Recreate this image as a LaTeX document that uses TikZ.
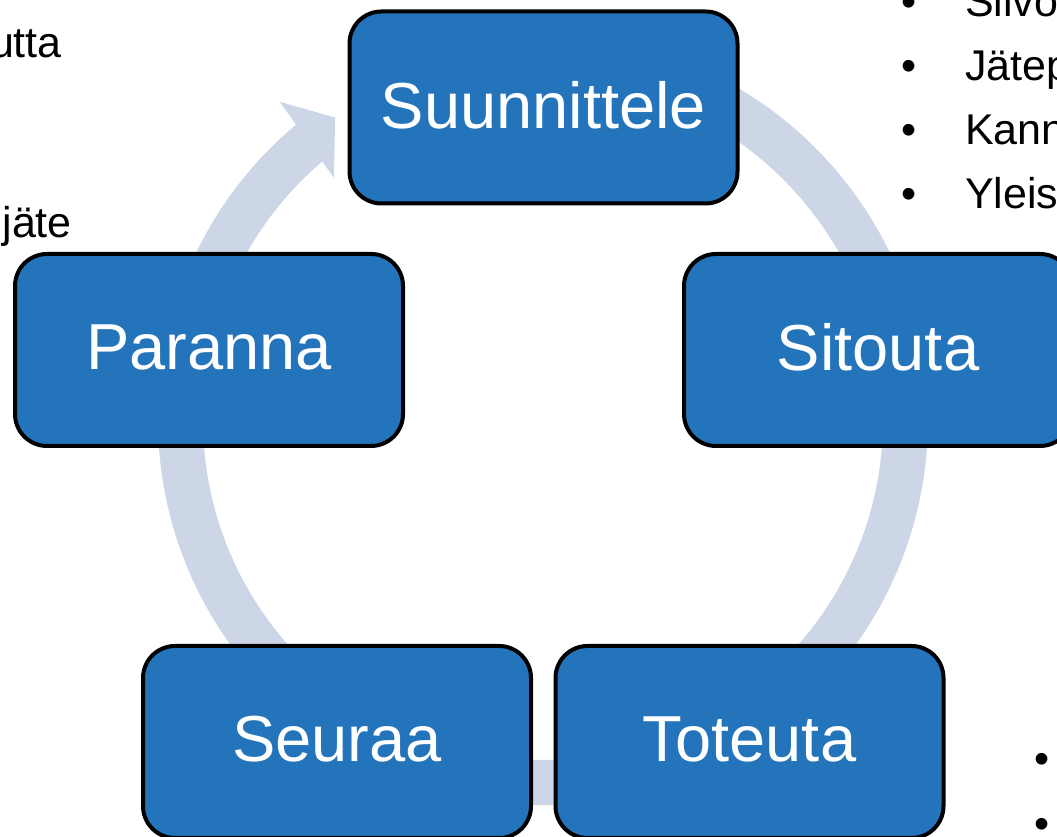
\documentclass[tikz,border=0pt]{standalone}
\usepackage{fontspec}
\setmainfont{Liberation Sans}
\usetikzlibrary{calc}
\definecolor{boxblue}{RGB}{36,116,188}
\definecolor{ringgray}{RGB}{205,214,231}
\begin{document}
\begin{tikzpicture}[x=1pt,y=1pt,
  stage/.style={draw=black,line width=4pt,fill=boxblue,rounded corners=32pt,
    minimum width=388pt,minimum height=192pt,inner sep=0pt,text=white,
    text depth=6pt,font=\fontsize{65}{78}\selectfont},
  side/.style={inner sep=0pt,font=\fontsize{43}{52}\selectfont}]
  \useasboundingbox (0,0) rectangle (1057,837);
  \coordinate (c) at (543,417);
  \draw[ringgray,line width=45pt] (c) ++(129.8:362.5) arc[start angle=129.8,end angle=475,radius=362.5];
  \fill[ringgray] ($(c)+(129.6:413)$) -- ($(c)+(124.5:367)$) -- ($(c)+(130.8:320)$) -- cycle;

  \node[stage] (suun) at (543.5,729.5) {Suunnittele};
  \node[stage] (sito) at (878,487) {Sitouta};
  \node[stage] (tote) at (749.5,95) {Toteuta};
  \node[stage] (seur) at (337,95) {Seuraa};
  \node[stage] (para) at (209,487) {Paranna};

  \node[side,anchor=base east] (l1) at (62,779) {utta};
  \node[side,anchor=base east] (l2) at (72,599) {jäte};
  \foreach \lbl [count=\i] in {Silvo,Jätep,Kann,Yleis}{
    \node[side,anchor=base] (b\i) at (909,884-64*\i) {•};
    \node[side,anchor=base west] (r\i) at (965,884-64*\i) {\lbl};
  }
  \foreach \i in {1,2}
    \node[side,anchor=base] (d\i) at (1042,128-65*\i) {•};
\end{tikzpicture}
\end{document}
